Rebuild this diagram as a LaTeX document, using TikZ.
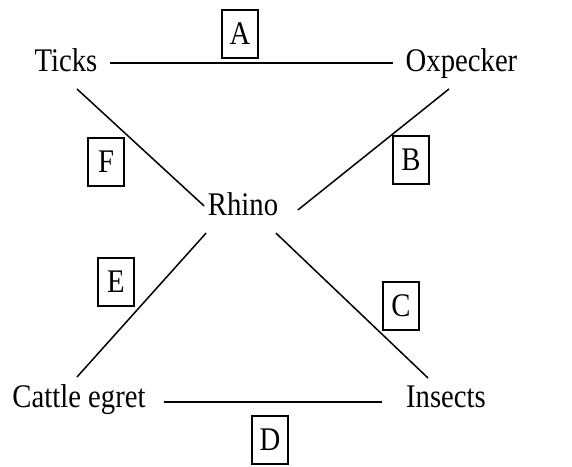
\documentclass[tikz,border=0pt]{standalone}
\usepackage{fontspec}
\setmainfont[FakeStretch=0.87]{Liberation Serif}
\begin{document}
\begin{tikzpicture}[
    x=1pt, y=1pt,
    font=\fontsize{33}{40}\selectfont,
    line width=1.5pt,
    animal/.style={inner sep=0pt, anchor=base},
    tag/.style={draw, line width=1.5pt, inner sep=0pt,
                minimum width=36pt, minimum height=48pt}
]
\useasboundingbox (0,0) rectangle (572,466);

% Arten
\node[animal] (ticks) at (66,394) {Ticks};
\node[animal] (oxp)   at (461.5,394) {Oxpecker};
\node[animal] (rhino) at (243,250) {Rhino};
\node[animal] (egret) at (79,59) {Cattle egret};
\node[animal] (ins)   at (446,59) {Insects};

% Beziehungen
\draw[shorten <=12pt, shorten >=12pt]
    ([yshift=9pt]ticks.base east) -- ([yshift=9pt]oxp.base west);
\draw ([xshift=-12.5pt,yshift=-17pt]oxp.base)
    -- ([xshift=19pt,yshift=6pt]rhino.base east);
\draw ([xshift=-3pt,yshift=-17pt]rhino.base east)
    -- ([xshift=-18pt,yshift=29pt]ins.base);
\draw[shorten <=18pt, shorten >=23pt]
    ([yshift=5pt]egret.base east) -- ([yshift=5pt]ins.base west);
\draw ([xshift=-1pt,yshift=-17pt]rhino.base west)
    -- ([xshift=-2pt,yshift=30pt]egret.base);
\draw ([xshift=11pt,yshift=-17pt]ticks.base)
    -- ([xshift=-3pt,yshift=10pt]rhino.base west);

% Buchstaben
\node[tag] (la) at (240,432) {A};
\node[tag] (lb) at (411,306) {B};
\node[tag] (lc) at (401,160) {C};
\node[tag] (ld) at (270,26)  {D};
\node[tag] (le) at (116,184) {E};
\node[tag] (lf) at (106,304) {F};

\end{tikzpicture}
\end{document}
